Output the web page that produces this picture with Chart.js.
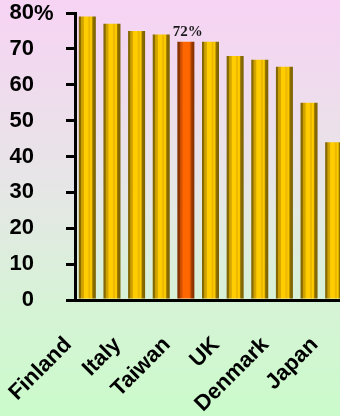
<!DOCTYPE html>
<html>
<head>
<meta charset="utf-8">
<script src="https://cdn.jsdelivr.net/npm/chart.js@4/dist/chart.umd.min.js"></script>
<style>
  html, body { margin: 0; padding: 0; width: 340px; height: 416px; overflow: hidden; }
  #wrap { position: relative; width: 346px; height: 416px; }
</style>
</head>
<body>
<div id="wrap"><canvas id="chart"></canvas></div>
<script>
// Share of respondents by country (%), only every other country is named on the axis
const countries = ['Finland', '', 'Italy', '', 'Taiwan', '', 'UK', '', 'Denmark', '', 'Japan'];
const shares = [79, 77, 75, 74, 72, 72, 68, 67, 65, 55, 44];
const yTicks = [0, 10, 20, 30, 40, 50, 60, 70, 80];
const highlighted = 'Taiwan';

const BAR_PCT = 0.69;
const SANS = '"Liberation Sans", Arial, sans-serif';
const SERIF = '"Liberation Serif", "Times New Roman", serif';

const goldStops = [
  [0, '#7e6300'], [0.11, '#8c6e00'], [0.15, '#c99c00'], [0.28, '#d8aa00'],
  [0.32, '#ffcc00'], [0.54, '#ffcc00'], [0.58, '#ecb900'], [0.66, '#ecb900'],
  [0.7, '#ffcc00'], [0.77, '#f8c600'], [0.81, '#a88400'], [0.86, '#8a6c00'], [1, '#7a6000']
];
const orangeStops = [
  [0, '#7e2e00'], [0.12, '#8e3500'], [0.17, '#c04a00'], [0.3, '#e85a00'],
  [0.36, '#ff6600'], [0.7, '#ff6600'], [0.76, '#e05800'], [0.84, '#a03c00'], [1, '#7e2e00']
];

// Horizontal "cylinder" shading for each bar, placed with the category scale
function barFill(ctx) {
  const chart = ctx.chart;
  const area = chart.chartArea;
  const hot = countries[ctx.dataIndex] === highlighted;
  if (!area || !chart.scales.x) return hot ? '#ff6600' : '#ffcc00';
  const cx = chart.scales.x.getPixelForValue(ctx.dataIndex);
  const w = (area.right - area.left) / countries.length * BAR_PCT;
  const g = chart.ctx.createLinearGradient(cx - w / 2, 0, cx + w / 2, 0);
  (hot ? orangeStops : goldStops).forEach(([o, c]) => g.addColorStop(o, c));
  return g;
}

// Page background: pink at the top fading to pale green at the bottom
const backdrop = {
  id: 'backdrop',
  beforeDraw(chart) {
    const { ctx, width, height } = chart;
    const g = ctx.createLinearGradient(0, 0, 0, height);
    g.addColorStop(0, '#f7d3f4');
    g.addColorStop(0.45, '#e6e6e6');
    g.addColorStop(0.75, '#d5f3d5');
    g.addColorStop(1, '#cbfbcb');
    ctx.save();
    ctx.fillStyle = g;
    ctx.fillRect(0, 0, width, height);
    ctx.restore();
  }
};

// Percent sign after the top tick and the value above the highlighted bar
const annotations = {
  id: 'annotations',
  afterDraw(chart) {
    const { ctx } = chart;
    const ys = chart.scales.y;
    const top = yTicks[yTicks.length - 1];
    ctx.save();
    ctx.font = 'bold 22px ' + SANS;
    ctx.fillStyle = '#000';
    ctx.textAlign = 'left';
    ctx.textBaseline = 'middle';
    ctx.fillText('%', 34, ys.getPixelForValue(top) + 1);

    const idx = countries.indexOf(highlighted);
    const bar = chart.getDatasetMeta(0).data[idx];
    ctx.font = 'bold 15px ' + SERIF;
    ctx.fillStyle = '#1a1a1a';
    ctx.textAlign = 'center';
    ctx.textBaseline = 'alphabetic';
    ctx.fillText(shares[idx] + '%', bar.x + 2, bar.y - 6);
    ctx.restore();
  }
};

new Chart(document.getElementById('chart'), {
  type: 'bar',
  data: {
    labels: countries,
    datasets: [{
      data: shares,
      backgroundColor: barFill,
      borderWidth: 0,
      barPercentage: BAR_PCT,
      categoryPercentage: 1
    }]
  },
  options: {
    responsive: true,
    maintainAspectRatio: false,
    animation: false,
    devicePixelRatio: 1,
    layout: { padding: 0 },
    plugins: { legend: { display: false }, tooltip: { enabled: false } },
    scales: {
      x: {
        grid: { display: false, drawTicks: false },
        border: { display: true, color: '#000', width: 3 },
        ticks: {
          autoSkip: false,
          maxRotation: 45,
          minRotation: 45,
          labelOffset: -19,
          padding: 32,
          color: '#000',
          font: { family: SANS, size: 22, weight: 'bold' }
        },
        afterFit(s) {
          s.height = 116;
          s.paddingLeft = 0;
          s.paddingRight = 0;
        }
      },
      y: {
        min: 0,
        max: 80,
        afterBuildTicks(s) { s.ticks = yTicks.map(v => ({ value: v })); },
        grid: { display: true, drawOnChartArea: false, color: '#000', lineWidth: 3, tickLength: 9 },
        border: { display: true, color: '#000', width: 3 },
        ticks: {
          padding: 32,
          color: '#000',
          font: { family: SANS, size: 22, weight: 'bold' },
          callback: v => String(v)
        },
        afterFit(s) {
          s.width = 75;
          s.paddingTop = 13;
          s.paddingBottom = 0;
        }
      }
    }
  },
  plugins: [backdrop, annotations]
});
</script>
</body>
</html>
